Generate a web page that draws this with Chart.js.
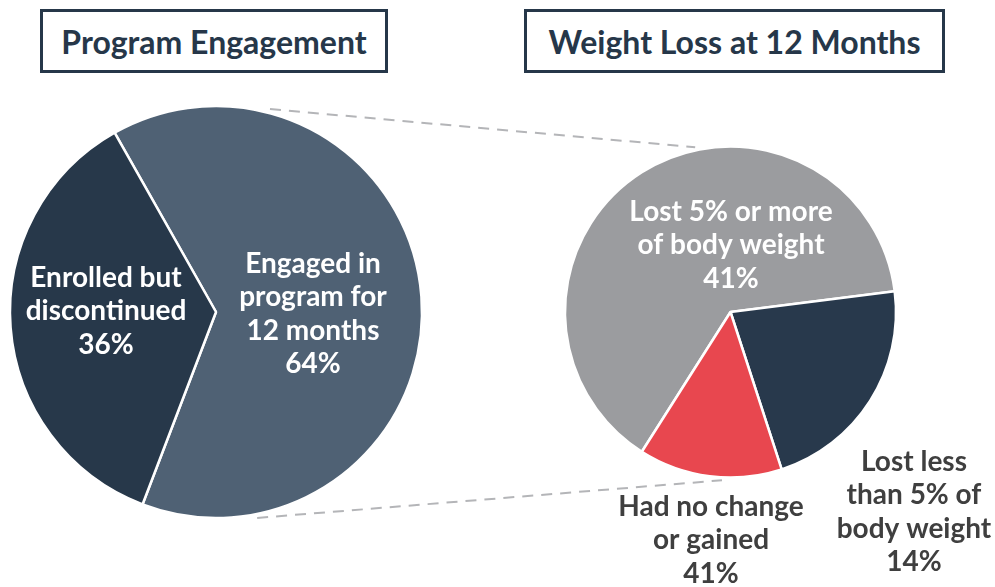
<!DOCTYPE html>
<html>
<head>
<meta charset="utf-8">
<script src="https://cdn.jsdelivr.net/npm/chart.js@4/dist/chart.umd.min.js"></script>
<style>
  html,body{margin:0;padding:0;background:#fff;}
  body{width:995px;height:587px;position:relative;overflow:hidden;font-family:Lato, "Open Sans", sans-serif;}
  .title{position:absolute;box-sizing:border-box;border:3px solid #263749;color:#263749;font-weight:700;font-size:32px;display:flex;align-items:center;justify-content:center;letter-spacing:0;}
  canvas{position:absolute;left:0;top:0;}
</style>
</head>
<body>
<div class="title" id="t1" style="left:40px;top:9px;width:348px;height:64px;">Program Engagement</div>
<div class="title" id="t2" style="left:524px;top:9px;width:421px;height:64px;">Weight Loss at 12 Months</div>
<canvas id="left" width="995" height="587"></canvas>
<canvas id="right" width="995" height="587"></canvas>
<script>
// ---------- DATA ----------
const leftCategories = ['Engaged in program for 12 months', 'Enrolled but discontinued'];
const leftValues = [64, 36];
const leftLabelLines = [
  ['Engaged in', 'program for', '12 months', '64%'],
  ['Enrolled but', 'discontinued', '36%']
];

const rightCategories = ['Lost 5% or more of body weight', 'Lost less than 5% of body weight', 'Had no change or gained'];
const rightValues = [64, 22, 14];
const rightLabelLines = [
  ['Lost 5% or more', 'of body weight', '41%'],
  ['Lost less', 'than 5% of', 'body weight', '14%'],
  ['Had no change', 'or gained', '41%']
];

// ---------- STYLE ----------
const leftColors = ['#4f6174', '#27384a'];
const rightColors = ['#9b9c9f', '#28394c', '#e8474f'];
const FONT = '700 28px Lato, "Open Sans", sans-serif';
const LINE_H = 33.5;

// label anchor offsets from pie centre (layout only)
const leftLabelPos = [{dx: 97, dy: 2, color: '#ffffff'}, {dx: -110, dy: -1, color: '#ffffff'}];
const rightLabelPos = [{dx: 0.5, dy: -67, color: '#ffffff'}, {dx: 183.5, dy: 200, color: '#3f3f3f'}, {dx: -19.5, dy: 228, color: '#3f3f3f'}];

function labelPlugin(lines, pos) {
  return {
    id: 'sliceLabels',
    afterDatasetsDraw(chart) {
      const ctx = chart.ctx;
      const arc = chart.getDatasetMeta(0).data[0];
      const cx = arc.x, cy = arc.y;
      ctx.save();
      ctx.font = FONT;
      ctx.textAlign = 'center';
      ctx.textBaseline = 'middle';
      lines.forEach((ls, i) => {
        const p = pos[i];
        ctx.fillStyle = p.color;
        const y0 = cy + p.dy - (ls.length - 1) * LINE_H / 2;
        ls.forEach((t, j) => ctx.fillText(t, cx + p.dx, y0 + j * LINE_H));
      });
      ctx.restore();
    }
  };
}

function build() {
  const leftChart = new Chart(document.getElementById('left'), {
    type: 'pie',
    data: {
      labels: leftCategories,
      datasets: [{data: leftValues, backgroundColor: leftColors, borderColor: '#ffffff', borderWidth: 2.5}]
    },
    options: {
      responsive: false,
      animation: false,
      rotation: -29.5,
      radius: 206,
      layout: {padding: {left: 0, right: 563, top: 37, bottom: 0}},
      plugins: {legend: {display: false}, tooltip: {enabled: false}}
    },
    plugins: [labelPlugin(leftLabelLines, leftLabelPos)]
  });

  const connector = {
    id: 'connector',
    beforeDatasetsDraw(chart) {
      const la = leftChart.getDatasetMeta(0).data[0];
      const ra = chart.getDatasetMeta(0).data[0];
      const pt = (a, deg, r) => {
        const t = deg * Math.PI / 180;
        return [a.x + Math.sin(t) * r, a.y - Math.cos(t) * r];
      };
      const ctx = chart.ctx;
      ctx.save();
      ctx.strokeStyle = '#b4b5b8';
      ctx.lineWidth = 2;
      ctx.setLineDash([11, 8]);
      const segs = [[14.9, -12.1], [168.7, 182.9]];
      segs.forEach(([a1, a2]) => {
        const p1 = pt(la, a1, la.outerRadius + 4);
        const p2 = pt(ra, a2, ra.outerRadius + 3);
        ctx.beginPath();
        ctx.moveTo(p1[0], p1[1]);
        ctx.lineTo(p2[0], p2[1]);
        ctx.stroke();
      });
      ctx.restore();
    }
  };

  new Chart(document.getElementById('right'), {
    type: 'pie',
    data: {
      labels: rightCategories,
      datasets: [{data: rightValues, backgroundColor: rightColors, borderColor: '#ffffff', borderWidth: 2.5}]
    },
    options: {
      responsive: false,
      animation: false,
      rotation: 212.4,
      radius: 165.5,
      layout: {padding: {left: 466, right: 0, top: 37, bottom: 0}},
      plugins: {legend: {display: false}, tooltip: {enabled: false}}
    },
    plugins: [connector, labelPlugin(rightLabelLines, rightLabelPos)]
  });
}

if (document.fonts && document.fonts.load) {
  document.fonts.load(FONT).then(build, build);
} else {
  build();
}
</script>
</body>
</html>
